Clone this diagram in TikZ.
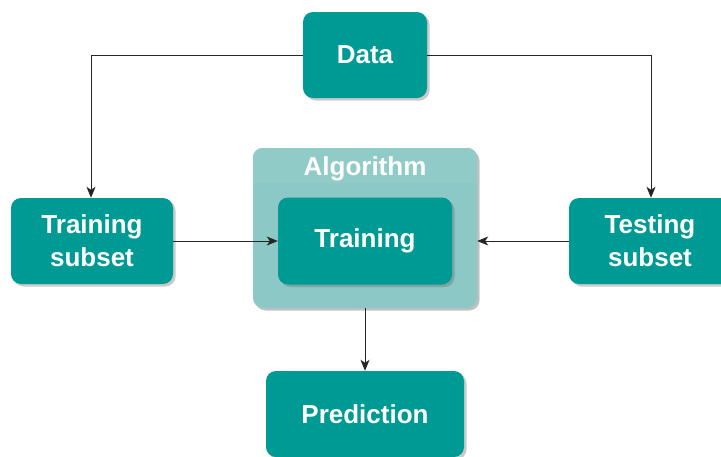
\documentclass[tikz,border=0pt]{standalone}
\usepackage{fontspec}
\setmainfont{Liberation Sans}
\usetikzlibrary{arrows.meta,shadows,positioning}
\definecolor{teal1}{HTML}{009A95}
\definecolor{algbg}{HTML}{8CC8C5}
\definecolor{alghd}{HTML}{91CBC8}
\tikzset{
  box/.style={draw=none, fill=teal1, rounded corners=10pt, text=white,
    font=\fontsize{26}{33}\selectfont\bfseries, align=center, inner sep=0pt,
    drop shadow={shadow xshift=2.5pt, shadow yshift=-2.5pt, opacity=0.35, fill=black!60}},
  conn/.style={draw=black!85, line width=1pt, -{Stealth[length=11pt,width=9pt,inset=3pt]}},
}
\begin{document}
\begin{tikzpicture}[x=1pt,y=-1pt]
\useasboundingbox (0,0) rectangle (721,456);
\node[box, minimum width=124pt, minimum height=86pt] (data) at (365,55) {Data};
\node[box, minimum width=162pt, minimum height=86pt] (trs) at (92,241) {Training\\subset};
\node[box, minimum width=162pt, minimum height=86pt] (tes) at (650,241) {Testing\\subset};
\node[box, fill=algbg, minimum width=224pt, minimum height=160pt,
  drop shadow={shadow xshift=2pt, shadow yshift=-2pt, opacity=0.2, fill=black!40}] (alg) at (365,228) {};
\begin{scope}
\clip[rounded corners=10pt] (alg.north west) rectangle (alg.south east);
\fill[alghd] (alg.north west) rectangle (477,183);
\end{scope}
\node[font=\fontsize{26}{33}\selectfont\bfseries, text=white, inner sep=0pt] (algl) at (365,169) {Algorithm};
\node[box, minimum width=174pt, minimum height=87pt] (tr) at (365,241) {Training};
\node[box, minimum width=198pt, minimum height=86pt] (pred) at (365,414) {Prediction};
\coordinate (c1) at (91,55);
\coordinate (c2) at (651,55);
\draw[conn] (data.west) -- (c1) -- (trs.north -| c1);
\draw[conn] (data.east) -- (c2) -- (tes.north -| c2);
\draw[conn] (trs.east) -- (tr.west);
\draw[conn] (tes.west) -- (tes.west -| alg.east);
\draw[conn] (alg.south) -- (pred.north);
\end{tikzpicture}
\end{document}
